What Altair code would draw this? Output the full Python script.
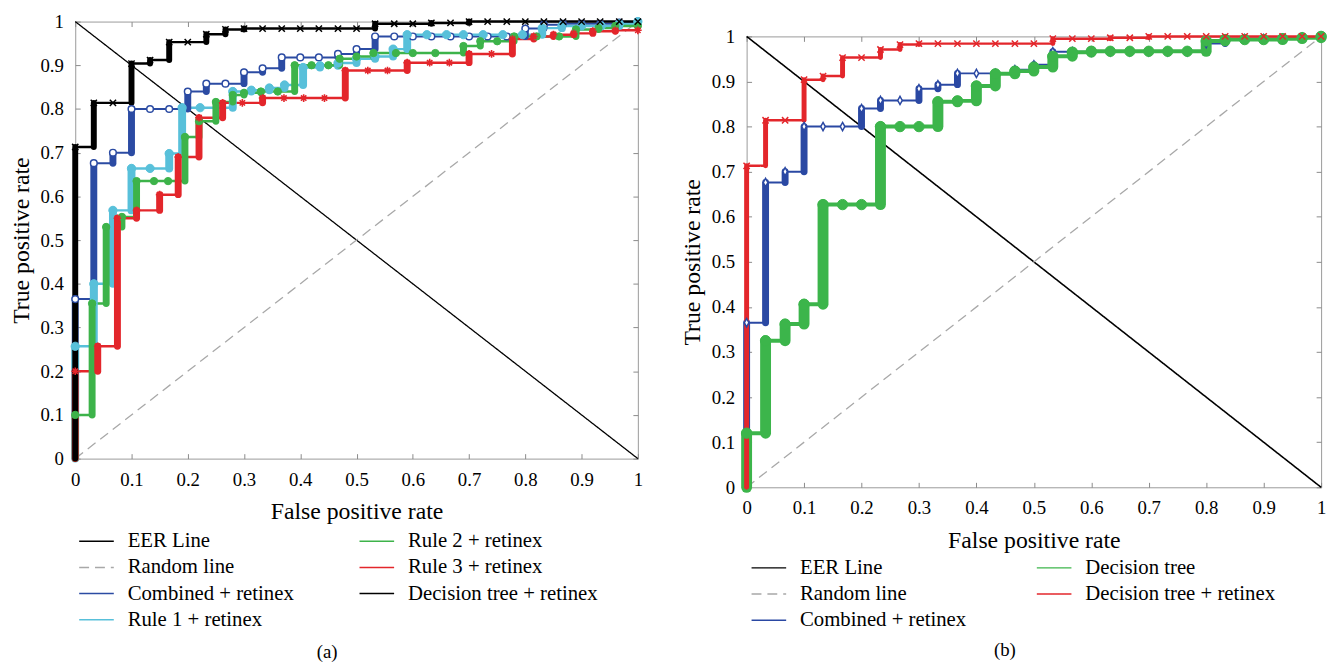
import altair as alt
import pandas as pd

SERIF = "Liberation Serif"
TICKS = [0, 0.1, 0.2, 0.3, 0.4, 0.5, 0.6, 0.7, 0.8, 0.9, 1]

EER_FPR = [0, 1]
EER_TPR = [1, 0]
RANDOM_FPR = [0, 1]
RANDOM_TPR = [0, 1]

GRID_FPR = [0, 0, 0.033, 0.067, 0.1, 0.133, 0.167, 0.2, 0.233, 0.267, 0.3, 0.333, 0.367,
            0.4, 0.433, 0.467, 0.5, 0.533, 0.567, 0.6, 0.633, 0.667, 0.7, 0.733, 0.767,
            0.8, 0.833, 0.867, 0.9, 0.933, 0.967, 1.0]

COMBINED_TPR = [0, 0.365, 0.676, 0.70, 0.80, 0.80, 0.80, 0.84, 0.858, 0.858, 0.884, 0.893,
                0.918, 0.918, 0.918, 0.926, 0.937, 0.966, 0.966, 0.966, 0.966, 0.966, 0.966,
                0.966, 0.966, 0.984, 0.993, 0.995, 0.995, 0.995, 0.998, 1.0]

DT_RETINEX_TPR = [0, 0.713, 0.814, 0.814, 0.904, 0.912, 0.953, 0.953, 0.971, 0.982, 0.984,
                  0.984, 0.984, 0.984, 0.984, 0.984, 0.984, 0.995, 0.995, 0.995, 0.997, 0.997,
                  1.0, 1.0, 1.0, 1.0, 1.0, 1.0, 1.0, 1.0, 1.0, 1.0]

DT_PLAIN_TPR = [0, 0.12, 0.325, 0.362, 0.406, 0.627, 0.627, 0.627, 0.80, 0.80, 0.80, 0.855,
                0.857, 0.89, 0.917, 0.923, 0.932, 0.956, 0.965, 0.967, 0.967, 0.967, 0.967,
                0.967, 0.967, 0.99, 0.993, 0.993, 0.993, 0.995, 0.997, 1.0]

RULE1_FPR = [0, 0, 0.033, 0.067, 0.1, 0.133, 0.167, 0.19, 0.222, 0.28, 0.313, 0.345, 0.372,
             0.405, 0.435, 0.467, 0.5, 0.533, 0.565, 0.59, 0.625, 0.66, 0.69, 0.725, 0.76,
             0.795, 0.83, 0.865, 0.9, 0.935, 0.967, 1.0]
RULE1_TPR = [0, 0.257, 0.40, 0.568, 0.664, 0.664, 0.698, 0.803, 0.803, 0.84, 0.843, 0.848,
             0.855, 0.895, 0.899, 0.905, 0.915, 0.92, 0.937, 0.97, 0.97, 0.97, 0.97, 0.97,
             0.97, 0.97, 0.985, 0.99, 0.99, 0.99, 0.995, 1.0]

RULE2_FPR = [0, 0, 0.03, 0.055, 0.083, 0.109, 0.14, 0.165, 0.195, 0.22, 0.25, 0.28, 0.30,
             0.33, 0.36, 0.39, 0.42, 0.45, 0.47, 0.50, 0.53, 0.57, 0.60, 0.64, 0.69, 0.72,
             0.75, 0.78, 0.82, 0.86, 0.89, 0.93, 0.96, 1.0]
RULE2_TPR = [0, 0.10, 0.355, 0.53, 0.553, 0.635, 0.635, 0.635, 0.736, 0.772, 0.816, 0.832,
             0.837, 0.84, 0.84, 0.90, 0.90, 0.90, 0.915, 0.92, 0.928, 0.928, 0.928, 0.928,
             0.944, 0.955, 0.955, 0.966, 0.966, 0.966, 0.982, 0.985, 0.99, 0.99]

RULE3_FPR = [0, 0, 0.04, 0.075, 0.109, 0.15, 0.183, 0.22, 0.262, 0.297, 0.333, 0.371, 0.406,
             0.443, 0.48, 0.52, 0.555, 0.59, 0.63, 0.665, 0.70, 0.74, 0.777, 0.815, 0.85,
             0.886, 0.92, 0.96, 1.0]
RULE3_TPR = [0, 0.20, 0.257, 0.55, 0.568, 0.604, 0.69, 0.78, 0.814, 0.814, 0.825, 0.825,
             0.825, 0.825, 0.888, 0.888, 0.888, 0.906, 0.906, 0.906, 0.926, 0.926, 0.96,
             0.966, 0.97, 0.973, 0.978, 0.98, 0.98]

X_PATH = "M-1,-1L1,1M-1,1L1,-1"
AST_PATH = "M-1,0L1,0M0,-1L0,1M-0.7,-0.7L0.7,0.7M-0.7,0.7L0.7,-0.7"
DIAMOND_PATH = "M0,-1L0.55,0L0,1L-0.55,0Z"

A_SERIES = [
    dict(name="EER Line", fpr=EER_FPR, tpr=EER_TPR, color="#000000", lw=1.3, diag=True),
    dict(name="Random line", fpr=RANDOM_FPR, tpr=RANDOM_TPR, color="#a8a8a8", lw=1.3,
         diag=True, dash=[10, 6]),
    dict(name="Combined + retinex", fpr=GRID_FPR, tpr=COMBINED_TPR, color="#2b4ba3", lw=2,
         bw=7, shape="circle", size=45, fill="white", sw=1.5),
    dict(name="Rule 1 + retinex", fpr=RULE1_FPR, tpr=RULE1_TPR, color="#58c0da", lw=2.5,
         bw=8, shape="circle", size=70, fill="#58c0da", sw=1),
    dict(name="Rule 2 + retinex", fpr=RULE2_FPR, tpr=RULE2_TPR, color="#3db34a", lw=2.5,
         bw=7, shape="circle", size=55, fill="#3db34a", sw=1),
    dict(name="Rule 3 + retinex", fpr=RULE3_FPR, tpr=RULE3_TPR, color="#e3262b", lw=2.5,
         bw=7, shape=AST_PATH, size=60, fill="transparent", sw=1.6),
    dict(name="Decision tree + retinex", fpr=GRID_FPR, tpr=DT_RETINEX_TPR, color="#000000",
         lw=2.5, bw=6, shape=X_PATH, size=40, fill="transparent", sw=1.5),
]
A_LEGEND_ORDER = ["EER Line", "Random line", "Combined + retinex", "Rule 1 + retinex",
                  "Rule 2 + retinex", "Rule 3 + retinex", "Decision tree + retinex"]

B_SERIES = [
    dict(name="EER Line", fpr=EER_FPR, tpr=EER_TPR, color="#000000", lw=1.6, diag=True),
    dict(name="Random line", fpr=RANDOM_FPR, tpr=RANDOM_TPR, color="#a8a8a8", lw=1.3,
         diag=True, dash=[10, 6]),
    dict(name="Combined + retinex", fpr=GRID_FPR, tpr=COMBINED_TPR, color="#2a48a3", lw=2,
         bw=7, shape=DIAMOND_PATH, size=70, fill="white", sw=1.5),
    dict(name="Decision tree", fpr=GRID_FPR, tpr=DT_PLAIN_TPR, color="#3cb54b", lw=4,
         bw=11, shape="circle", size=110, fill="#3cb54b", sw=1),
    dict(name="Decision tree + retinex", fpr=GRID_FPR, tpr=DT_RETINEX_TPR, color="#e3262b",
         lw=2.5, bw=5, shape=X_PATH, size=40, fill="transparent", sw=1.5),
]
B_LEGEND_ORDER = ["EER Line", "Random line", "Combined + retinex", "Decision tree",
                  "Decision tree + retinex"]


def build_frames(series):
    lines, bars, pts = [], [], []
    for s in series:
        xs, ys = s["fpr"], s["tpr"]
        if s.get("diag"):
            for k, (x, y) in enumerate(zip(xs, ys)):
                lines.append(dict(series=s["name"], fpr=x, tpr=y, idx=k, lw=s["lw"]))
            continue
        k = 0
        lines.append(dict(series=s["name"], fpr=xs[0], tpr=ys[0], idx=k, lw=s["lw"]))
        for i in range(1, len(xs)):
            k += 1
            lines.append(dict(series=s["name"], fpr=xs[i], tpr=ys[i - 1], idx=k, lw=s["lw"]))
            k += 1
            lines.append(dict(series=s["name"], fpr=xs[i], tpr=ys[i], idx=k, lw=s["lw"]))
            if ys[i] > ys[i - 1]:
                bars.append(dict(fpr=xs[i], y1=ys[i - 1], y2=ys[i], col=s["color"], bw=s["bw"]))
            pts.append(dict(fpr=xs[i], tpr=ys[i], shape=s["shape"], size=s["size"],
                            fill=s["fill"], stroke=s["color"], sw=s["sw"]))
    return pd.DataFrame(lines), pd.DataFrame(bars), pd.DataFrame(pts)


def panel(series, legend_order, width, height, leg_x, leg_y, col_pad, caption, cap_offset):
    lines, bars, pts = build_frames(series)
    by_name = {s["name"]: s for s in series}
    colors = [by_name[n]["color"] for n in legend_order]
    dashes = [by_name[n].get("dash", [1, 0]) for n in legend_order]
    xs = alt.Scale(domain=[0, 1], nice=False, zero=False)
    ys = alt.Scale(domain=[0, 1], nice=False, zero=False)
    leg = alt.Legend(title=None, orient="none", legendX=leg_x, legendY=leg_y, columns=2,
                     columnPadding=col_pad, rowPadding=5.5, padding=0,
                     symbolType="M-1.75,0L1.75,0", symbolSize=400, symbolStrokeWidth=1.5,
                     labelOffset=20.5, labelFont=SERIF, labelFontSize=21,
                     labelColor="black", labelLimit=400)
    ax_common = dict(values=TICKS, grid=False, domain=False, tickSize=5, offset=-5,
                     tickColor="#8a8a8a", labelFont=SERIF, labelFontSize=19,
                     labelColor="black", titleFont=SERIF, titleFontSize=24,
                     titleFontWeight="normal", titleColor="black", labelFlush=False,
                     labelOverlap=False, format=".1~f")
    line_layer = alt.Chart(lines).mark_line(strokeJoin="miter").encode(
        x=alt.X("fpr:Q", scale=xs,
                axis=alt.Axis(title="False positive rate", labelPadding=12,
                              titlePadding=11, **ax_common)),
        y=alt.Y("tpr:Q", scale=ys,
                axis=alt.Axis(title="True positive rate", labelPadding=12,
                              titlePadding=7, **ax_common)),
        color=alt.Color("series:N", scale=alt.Scale(domain=legend_order, range=colors),
                        legend=leg),
        strokeDash=alt.StrokeDash("series:N",
                                  scale=alt.Scale(domain=legend_order, range=dashes),
                                  legend=leg),
        strokeWidth=alt.StrokeWidth("lw:Q", scale=None),
        order=alt.Order("idx:Q"),
    )
    bar_layer = alt.Chart(bars).mark_rule(strokeCap="round").encode(
        x=alt.X("fpr:Q", scale=xs, axis=None),
        y=alt.Y("y1:Q", scale=ys, axis=None),
        y2="y2:Q",
        color=alt.Color("col:N", scale=None),
        strokeWidth=alt.StrokeWidth("bw:Q", scale=None),
    )
    pt_layer = alt.Chart(pts).mark_point(filled=True, opacity=1).encode(
        x=alt.X("fpr:Q", scale=xs, axis=None),
        y=alt.Y("tpr:Q", scale=ys, axis=None),
        shape=alt.Shape("shape:N", scale=None),
        size=alt.Size("size:Q", scale=None),
        fill=alt.Fill("fill:N", scale=None),
        stroke=alt.Stroke("stroke:N", scale=None),
        strokeWidth=alt.StrokeWidth("sw:Q", scale=None),
    )
    frame_ticks = dict(values=TICKS, grid=False, domain=False, labels=False, tickSize=5,
                       offset=-5, tickColor="#8a8a8a", title=None)
    tick_layer = alt.Chart(pts).mark_point(opacity=0, size=1).encode(
        x=alt.X("fpr:Q", scale=xs, axis=alt.Axis(orient="top", **frame_ticks)),
        y=alt.Y("tpr:Q", scale=ys, axis=alt.Axis(orient="right", **frame_ticks)),
    )
    return alt.layer(line_layer, bar_layer, pt_layer, tick_layer).resolve_axis(
        x="independent", y="independent"
    ).properties(
        width=width, height=height,
        title=alt.TitleParams(caption, orient="bottom", anchor="middle", frame="bounds",
                              font=SERIF, fontSize=19, fontWeight="normal", color="black",
                              offset=cap_offset),
    )


panel_a = panel(A_SERIES, A_LEGEND_ORDER, 569, 442, 10.5, 514.5, 62.5, "(a)", 13)
panel_b = panel(B_SERIES, B_LEGEND_ORDER, 581, 456, 11.5, 526.5, 67.5, "(b)", 11.5)

spacer = alt.Chart(pd.DataFrame({"sv": [0]})).mark_point(opacity=0, size=1).encode(
    x=alt.X("sv:Q", axis=None, scale=alt.Scale(domain=[0, 1])),
    y=alt.Y("sv:Q", axis=None, scale=alt.Scale(domain=[0, 1])),
).properties(width=10, height=4, view=alt.ViewBackground(stroke="transparent"))

right = alt.vconcat(spacer, panel_b, spacing=0).resolve_scale(
    color="independent", strokeDash="independent", x="independent", y="independent"
).resolve_legend(color="independent", strokeDash="independent")

chart = alt.hconcat(panel_a, right, spacing=34).resolve_scale(
    color="independent", strokeDash="independent", x="independent", y="independent"
).resolve_legend(color="independent", strokeDash="independent").properties(
    padding=0, background="white"
).configure_view(stroke="#9a9a9a", strokeWidth=1)

chart.save("out.html", embed_options={"renderer": "svg", "actions": False})
